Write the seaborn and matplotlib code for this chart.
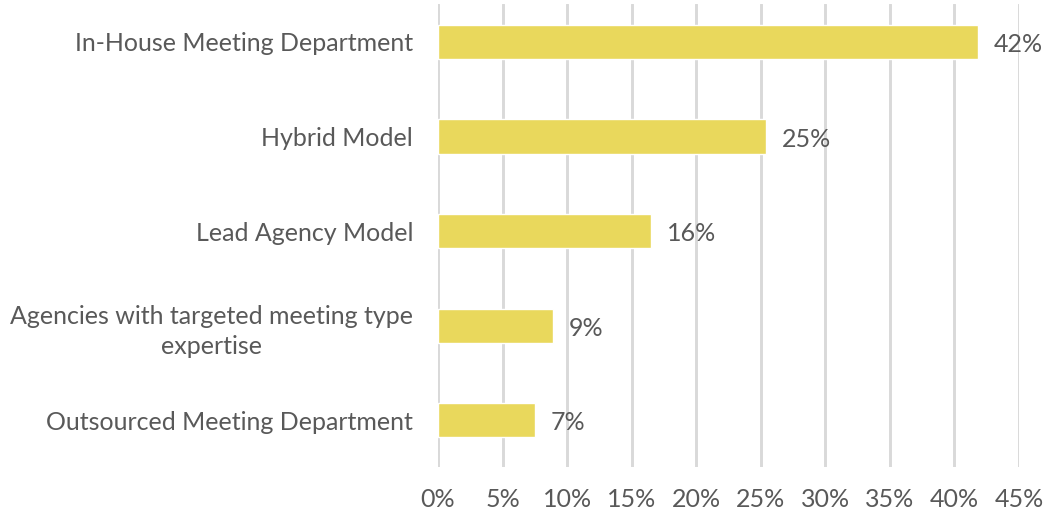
import matplotlib
matplotlib.use("Agg")
import matplotlib.pyplot as plt
import seaborn as sns
import pandas as pd

categories = [
    "In-House Meeting Department",
    "Hybrid Model",
    "Lead Agency Model",
    "Agencies with targeted meeting type\nexpertise",
    "Outsourced Meeting Department",
]
values = [41.8, 25.4, 16.5, 8.9, 7.5]
value_labels = ["42%", "25%", "16%", "9%", "7%"]
x_ticks = [0, 5, 10, 15, 20, 25, 30, 35, 40, 45]
x_tick_labels = ["0%", "5%", "10%", "15%", "20%", "25%", "30%", "35%", "40%", "45%"]

sns.set_theme(style="white")
plt.rcParams["font.family"] = ["Lato", "DejaVu Sans"]

TEXT = "#595959"
BAR = "#E9D85C"
GRID = "#D9D9D9"

df = pd.DataFrame({"category": categories, "value": values})

fig = plt.figure(figsize=(10.47, 5.18), dpi=100)
ax = fig.add_axes([438 / 1047, 1 - 467 / 518, (1019 - 438) / 1047, (467 - 4) / 518])

sns.barplot(data=df, y="category", x="value", orient="h", color=BAR,
            width=0.36, saturation=1, ax=ax, zorder=3)

ax.set_xlim(0, 45)
ax.set_ylim(4.497, -0.402)
ax.set_xticks(x_ticks)
ax.set_xticklabels(x_tick_labels)
ax.xaxis.grid(True, color=GRID, linewidth=2.1, zorder=0)
ax.yaxis.grid(False)
ax.set_axisbelow(True)
for s in ax.spines.values():
    s.set_visible(False)
ax.set_xlabel("")
ax.set_ylabel("")
ax.tick_params(axis="x", length=0, pad=15, labelsize=18, labelcolor=TEXT)
ax.tick_params(axis="y", length=0, pad=18, labelsize=18, labelcolor=TEXT)
for lbl in ax.get_yticklabels():
    lbl.set_horizontalalignment("right")
    lbl.set_multialignment("center")
    lbl.set_linespacing(1.4)

for i, (v, t) in enumerate(zip(values, value_labels)):
    ax.annotate(t, xy=(v, i), xytext=(11.5, -2), textcoords="offset points",
                va="center", ha="left", fontsize=18, color=TEXT)

fig.savefig("out.png", dpi=100)
